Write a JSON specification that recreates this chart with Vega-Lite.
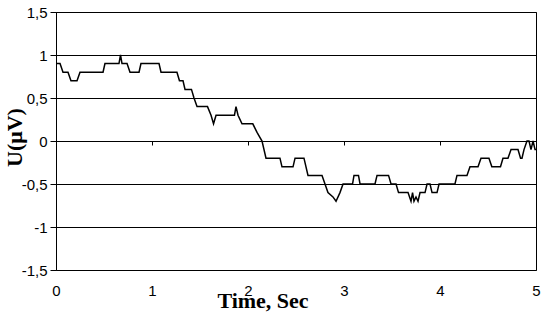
{
  "$schema": "https://vega.github.io/schema/vega-lite/v6.json",
  "width": 480,
  "height": 258,
  "autosize": {"type": "none"},
  "padding": {"left": 56, "top": 12, "right": 9, "bottom": 55},
  "background": "white",
  "config": {"view": {"stroke": "black", "strokeWidth": 1}},
  "data": {"values": [
    {"t": 0, "v": 0.9}, {"t": 0.042, "v": 0.9}, {"t": 0.073, "v": 0.8}, {"t": 0.125, "v": 0.8},
    {"t": 0.156, "v": 0.7}, {"t": 0.219, "v": 0.7}, {"t": 0.25, "v": 0.8}, {"t": 0.49, "v": 0.8},
    {"t": 0.51, "v": 0.9}, {"t": 0.656, "v": 0.9}, {"t": 0.672, "v": 1.0}, {"t": 0.6875, "v": 0.9},
    {"t": 0.74, "v": 0.9}, {"t": 0.771, "v": 0.8}, {"t": 0.865, "v": 0.8}, {"t": 0.885, "v": 0.9},
    {"t": 1.073, "v": 0.9}, {"t": 1.094, "v": 0.8}, {"t": 1.26, "v": 0.8}, {"t": 1.286, "v": 0.7},
    {"t": 1.323, "v": 0.7}, {"t": 1.344, "v": 0.6}, {"t": 1.411, "v": 0.6}, {"t": 1.4375, "v": 0.5},
    {"t": 1.469, "v": 0.4}, {"t": 1.578, "v": 0.4}, {"t": 1.615, "v": 0.3}, {"t": 1.641, "v": 0.2},
    {"t": 1.667, "v": 0.3}, {"t": 1.859, "v": 0.3}, {"t": 1.875, "v": 0.4}, {"t": 1.896, "v": 0.3},
    {"t": 1.9375, "v": 0.2}, {"t": 2.05, "v": 0.2}, {"t": 2.094, "v": 0.1}, {"t": 2.146, "v": 0.0},
    {"t": 2.1875, "v": -0.2}, {"t": 2.333, "v": -0.2}, {"t": 2.354, "v": -0.3}, {"t": 2.469, "v": -0.3},
    {"t": 2.49, "v": -0.2}, {"t": 2.583, "v": -0.2}, {"t": 2.625, "v": -0.4}, {"t": 2.771, "v": -0.4},
    {"t": 2.802, "v": -0.5}, {"t": 2.833, "v": -0.6}, {"t": 2.885, "v": -0.65}, {"t": 2.917, "v": -0.7},
    {"t": 2.958, "v": -0.6}, {"t": 2.99, "v": -0.5}, {"t": 3.089, "v": -0.5}, {"t": 3.104, "v": -0.4},
    {"t": 3.151, "v": -0.4}, {"t": 3.167, "v": -0.5}, {"t": 3.323, "v": -0.5}, {"t": 3.344, "v": -0.4},
    {"t": 3.464, "v": -0.4}, {"t": 3.49, "v": -0.5}, {"t": 3.542, "v": -0.5}, {"t": 3.568, "v": -0.6},
    {"t": 3.667, "v": -0.6}, {"t": 3.698, "v": -0.7}, {"t": 3.714, "v": -0.6}, {"t": 3.729, "v": -0.7},
    {"t": 3.75, "v": -0.65}, {"t": 3.771, "v": -0.7}, {"t": 3.792, "v": -0.6}, {"t": 3.844, "v": -0.6},
    {"t": 3.865, "v": -0.5}, {"t": 3.896, "v": -0.5}, {"t": 3.917, "v": -0.6}, {"t": 3.969, "v": -0.6},
    {"t": 3.99, "v": -0.5}, {"t": 4.156, "v": -0.5}, {"t": 4.177, "v": -0.4}, {"t": 4.281, "v": -0.4},
    {"t": 4.3125, "v": -0.3}, {"t": 4.396, "v": -0.3}, {"t": 4.427, "v": -0.2}, {"t": 4.51, "v": -0.2},
    {"t": 4.54, "v": -0.3}, {"t": 4.63, "v": -0.3}, {"t": 4.656, "v": -0.2}, {"t": 4.708, "v": -0.2},
    {"t": 4.74, "v": -0.1}, {"t": 4.8125, "v": -0.1}, {"t": 4.839, "v": -0.2}, {"t": 4.854, "v": -0.2},
    {"t": 4.875, "v": -0.1}, {"t": 4.906, "v": 0.0}, {"t": 4.927, "v": 0.0}, {"t": 4.948, "v": -0.1},
    {"t": 4.969, "v": 0.0}, {"t": 4.99, "v": -0.1}, {"t": 5, "v": -0.1}
  ]},
  "layer": [
    {
      "mark": {"type": "line", "color": "black", "strokeWidth": 1.5},
      "encoding": {
        "x": {
          "field": "t", "type": "quantitative",
          "scale": {"domain": [0, 5], "nice": false, "zero": false},
          "axis": {
            "orient": "bottom", "values": [0, 1, 2, 3, 4, 5], "format": "d",
            "ticks": false, "domain": false, "grid": false,
            "labelFont": "Liberation Sans", "labelFontSize": 15, "labelColor": "black",
            "labelPadding": 13, "labelFlush": false,
            "title": "Time, Sec", "titleFont": "Liberation Serif", "titleFontSize": 22,
            "titleFontWeight": "bold", "titleColor": "black",
            "titleX": 206.5, "titleY": 37, "titleBaseline": "alphabetic", "titleAlign": "center"
          }
        },
        "y": {
          "field": "v", "type": "quantitative",
          "scale": {"domain": [-1.5, 1.5], "nice": false, "zero": false},
          "axis": {
            "values": [-1.5, -1, -0.5, 0, 0.5, 1, 1.5],
            "labelExpr": "replace(toString(datum.value), '.', ',')",
            "ticks": true, "tickSize": 6, "tickColor": "black", "tickWidth": 1,
            "domain": true, "domainColor": "black",
            "grid": true, "gridColor": "black", "gridOpacity": 1, "gridWidth": 1,
            "labelFont": "Liberation Sans", "labelFontSize": 15, "labelColor": "black",
            "labelPadding": 3, "labelFlush": false,
            "title": "U(μV)", "titleFont": "Liberation Serif", "titleFontSize": 22,
            "titleFontWeight": "bold", "titleColor": "black",
            "titleX": -42, "titleY": 125, "titleAngle": -90, "titleBaseline": "middle", "titleAlign": "center"
          }
        }
      }
    },
    {
      "mark": {"type": "line", "opacity": 0},
      "encoding": {
        "x": {
          "field": "t", "type": "quantitative",
          "axis": {
            "orient": "bottom", "offset": -129, "values": [0, 1, 2, 3, 4, 5],
            "labels": false, "domain": false, "grid": false,
            "ticks": true, "tickSize": 4, "tickColor": "black", "tickWidth": 1, "title": null
          }
        },
        "y": {"field": "v", "type": "quantitative"}
      }
    }
  ],
  "resolve": {"axis": {"x": "independent"}}
}
